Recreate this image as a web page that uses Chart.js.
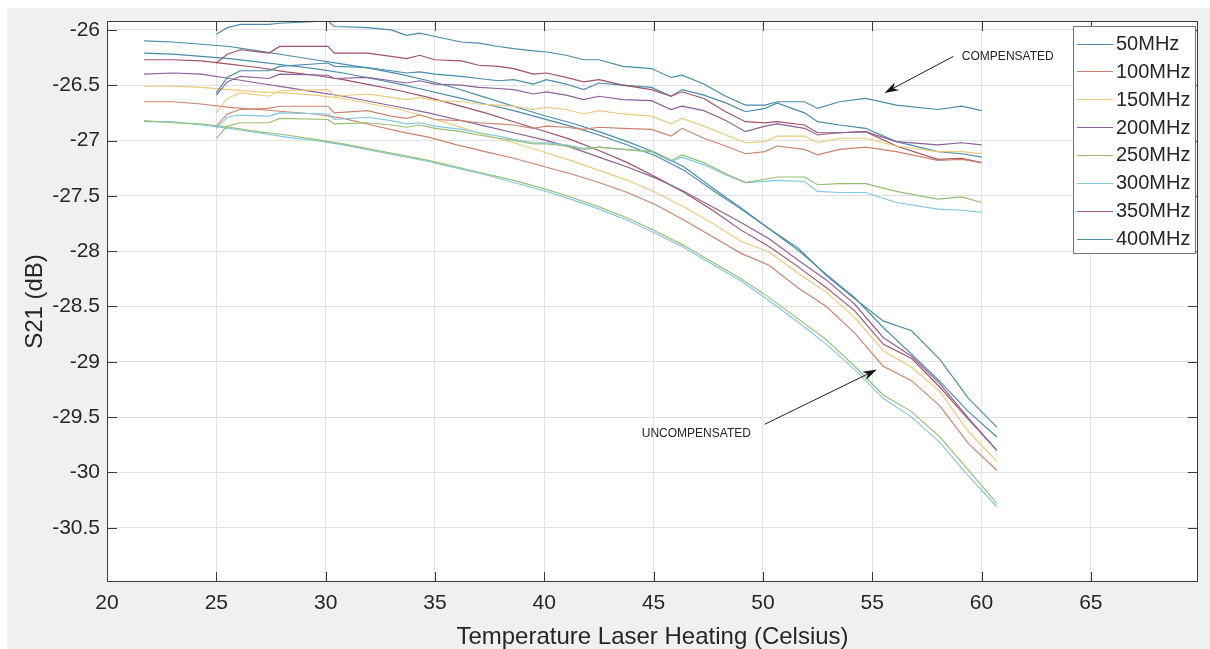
<!DOCTYPE html>
<html>
<head>
<meta charset="utf-8">
<script src="https://cdn.jsdelivr.net/npm/chart.js@4.4.1/dist/chart.umd.min.js"></script>
<style>
  html, body { margin: 0; padding: 0; background: #ffffff; }
  #wrap { position: relative; width: 1210px; height: 649px; }
  canvas { display: block; }
</style>
</head>
<body>
<div id="wrap"><canvas id="s21chart" width="1210" height="649"></canvas></div>
<script>
// Series names and line colours
const freqLabels = ['50MHz', '100MHz', '150MHz', '200MHz', '250MHz', '300MHz', '350MHz', '400MHz'];
const lineColors = [
  'rgb(72,140,172)', 'rgb(202,132,108)', 'rgb(234,202,122)', 'rgb(140,96,156)',
  'rgb(150,190,116)', 'rgb(128,200,228)', 'rgb(160,82,102)', 'rgb(72,140,172)'
];

// Axis ticks
const xTickValues = [20, 25, 30, 35, 40, 45, 50, 55, 60, 65];
const yTickValues = [-26, -26.5, -27, -27.5, -28, -28.5, -29, -29.5, -30, -30.5];

// Temperatures (Celsius) of the compensated sweeps
const tempCompensated = [25.0, 25.5, 26.1, 27.4, 27.9, 30.1, 30.4, 31.9, 33.0, 33.7, 34.3, 35.0, 36.2, 37.0, 37.9, 38.6, 39.5, 40.1, 41.0, 41.8, 42.5, 43.6, 44.9, 45.8, 46.3, 47.3, 48.3, 49.2, 50.1, 50.65, 51.9, 52.5, 53.5, 54.7, 56.1, 58.0, 59.1, 60.0];

// S21 (dB), compensated
const comp50  = [-26.04, -25.98, -25.95, -25.95, -25.94, -25.92, -25.97, -25.98, -26.00, -26.05, -26.03, -26.06, -26.11, -26.12, -26.15, -26.17, -26.19, -26.20, -26.23, -26.27, -26.27, -26.33, -26.35, -26.43, -26.41, -26.49, -26.60, -26.68, -26.68, -26.65, -26.65, -26.71, -26.65, -26.62, -26.68, -26.72, -26.69, -26.73];
const comp100 = [-26.87, -26.76, -26.72, -26.71, -26.69, -26.69, -26.75, -26.73, -26.78, -26.80, -26.77, -26.81, -26.82, -26.84, -26.85, -26.86, -26.89, -26.87, -26.88, -26.90, -26.88, -26.89, -26.90, -26.96, -26.89, -26.98, -27.05, -27.12, -27.10, -27.05, -27.08, -27.13, -27.08, -27.06, -27.10, -27.18, -27.17, -27.20];
const comp150 = [-26.75, -26.62, -26.57, -26.60, -26.55, -26.54, -26.60, -26.58, -26.61, -26.63, -26.61, -26.64, -26.65, -26.67, -26.68, -26.69, -26.72, -26.70, -26.72, -26.76, -26.73, -26.76, -26.78, -26.85, -26.80, -26.87, -26.95, -27.02, -27.01, -26.96, -26.96, -27.02, -26.98, -26.98, -27.05, -27.10, -27.10, -27.12];
const comp200 = [-26.59, -26.47, -26.42, -26.44, -26.40, -26.41, -26.44, -26.43, -26.46, -26.48, -26.46, -26.49, -26.50, -26.52, -26.53, -26.54, -26.58, -26.56, -26.59, -26.63, -26.60, -26.63, -26.64, -26.72, -26.69, -26.73, -26.82, -26.92, -26.87, -26.85, -26.89, -26.95, -26.93, -26.92, -27.01, -27.04, -27.02, -27.04];
const comp250 = [-26.98, -26.87, -26.84, -26.84, -26.80, -26.81, -26.85, -26.84, -26.86, -26.88, -26.86, -26.89, -26.92, -26.95, -26.98, -27.00, -27.03, -27.03, -27.05, -27.08, -27.06, -27.08, -27.10, -27.18, -27.13, -27.20, -27.30, -27.38, -27.35, -27.33, -27.33, -27.40, -27.39, -27.39, -27.46, -27.53, -27.51, -27.56];
const comp300 = [-26.89, -26.79, -26.77, -26.78, -26.75, -26.76, -26.81, -26.79, -26.82, -26.85, -26.84, -26.87, -26.90, -26.93, -26.96, -26.99, -27.02, -27.02, -27.04, -27.07, -27.06, -27.08, -27.10, -27.19, -27.15, -27.22, -27.31, -27.38, -27.37, -27.36, -27.37, -27.46, -27.47, -27.47, -27.56, -27.62, -27.63, -27.65];
const comp350 = [-26.30, -26.22, -26.18, -26.21, -26.15, -26.15, -26.21, -26.21, -26.24, -26.26, -26.23, -26.27, -26.28, -26.32, -26.33, -26.35, -26.40, -26.39, -26.43, -26.47, -26.45, -26.50, -26.54, -26.60, -26.56, -26.62, -26.74, -26.83, -26.84, -26.83, -26.86, -26.93, -26.93, -26.92, -27.05, -27.17, -27.16, -27.20];
const comp400 = [-26.57, -26.43, -26.37, -26.37, -26.33, -26.30, -26.33, -26.34, -26.37, -26.39, -26.38, -26.40, -26.42, -26.44, -26.46, -26.45, -26.49, -26.45, -26.49, -26.54, -26.48, -26.50, -26.52, -26.60, -26.54, -26.59, -26.66, -26.74, -26.71, -26.66, -26.75, -26.83, -26.86, -26.89, -27.01, -27.10, -27.12, -27.15];

// Temperatures (Celsius) of the uncompensated sweeps
const tempUncompensated = [21.7, 23.0, 24.3, 25.6, 26.9, 28.2, 29.5, 30.8, 32.1, 33.4, 34.7, 36.0, 37.3, 38.6, 39.9, 41.2, 42.5, 43.8, 45.1, 46.4, 47.7, 49.0, 50.3, 51.6, 52.9, 54.2, 55.5, 56.8, 58.1, 59.4, 60.7];

// S21 (dB), uncompensated
const uncomp50  = [-26.10, -26.11, -26.13, -26.15, -26.19, -26.23, -26.27, -26.31, -26.35, -26.40, -26.46, -26.53, -26.61, -26.69, -26.77, -26.84, -26.92, -27.01, -27.11, -27.24, -27.43, -27.61, -27.80, -27.97, -28.22, -28.43, -28.63, -28.72, -28.98, -29.33, -29.59];
const uncomp100 = [-26.65, -26.65, -26.67, -26.70, -26.72, -26.74, -26.76, -26.80, -26.86, -26.92, -26.97, -27.04, -27.10, -27.16, -27.23, -27.30, -27.38, -27.47, -27.58, -27.72, -27.87, -28.02, -28.13, -28.33, -28.50, -28.74, -29.04, -29.17, -29.40, -29.74, -29.98];
const uncomp150 = [-26.51, -26.51, -26.52, -26.54, -26.56, -26.57, -26.59, -26.62, -26.67, -26.72, -26.79, -26.87, -26.95, -27.02, -27.10, -27.18, -27.27, -27.36, -27.47, -27.60, -27.75, -27.91, -28.01, -28.20, -28.37, -28.60, -28.90, -29.05, -29.27, -29.63, -29.90];
const uncomp200 = [-26.40, -26.39, -26.40, -26.44, -26.48, -26.52, -26.56, -26.60, -26.65, -26.70, -26.75, -26.81, -26.87, -26.93, -26.99, -27.06, -27.15, -27.24, -27.34, -27.46, -27.60, -27.74, -27.89, -28.08, -28.26, -28.48, -28.78, -28.95, -29.20, -29.51, -29.80];
const uncomp250 = [-26.82, -26.84, -26.85, -26.88, -26.92, -26.95, -26.99, -27.03, -27.08, -27.13, -27.18, -27.24, -27.30, -27.36, -27.43, -27.51, -27.60, -27.70, -27.82, -27.95, -28.10, -28.25, -28.42, -28.61, -28.80, -29.04, -29.30, -29.45, -29.68, -29.98, -30.28];
const uncomp300 = [-26.83, -26.83, -26.86, -26.89, -26.93, -26.97, -27.00, -27.04, -27.09, -27.14, -27.19, -27.25, -27.31, -27.38, -27.45, -27.53, -27.62, -27.72, -27.84, -27.97, -28.12, -28.27, -28.45, -28.64, -28.84, -29.07, -29.33, -29.50, -29.73, -30.03, -30.31];
const uncomp350 = [-26.27, -26.27, -26.28, -26.31, -26.34, -26.38, -26.41, -26.45, -26.50, -26.55, -26.61, -26.68, -26.75, -26.83, -26.91, -26.99, -27.09, -27.20, -27.33, -27.47, -27.63, -27.81, -27.96, -28.14, -28.33, -28.54, -28.84, -28.97, -29.23, -29.52, -29.80];
const uncomp400 = [-26.21, -26.22, -26.24, -26.26, -26.29, -26.32, -26.35, -26.39, -26.44, -26.49, -26.55, -26.61, -26.67, -26.73, -26.80, -26.87, -26.95, -27.04, -27.14, -27.27, -27.45, -27.62, -27.80, -27.99, -28.21, -28.42, -28.69, -28.93, -29.18, -29.45, -29.68];

const compSeries = [comp50, comp100, comp150, comp200, comp250, comp300, comp350, comp400];
const uncompSeries = [uncomp50, uncomp100, uncomp150, uncomp200, uncomp250, uncomp300, uncomp350, uncomp400];

const FONT = "'Liberation Sans', Arial, Helvetica, sans-serif";
const TEXT_COLOR = 'rgb(38,38,38)';

function toPoints(xs, ys) {
  return xs.map((x, i) => ({ x: x, y: ys[i] }));
}

const datasets = [];
freqLabels.forEach((label, i) => {
  datasets.push({
    label: label,
    data: toPoints(tempCompensated, compSeries[i]),
    borderColor: lineColors[i],
    borderWidth: 1.15,
    fill: false
  });
});
freqLabels.forEach((label, i) => {
  datasets.push({
    label: label,
    data: toPoints(tempUncompensated, uncompSeries[i]),
    borderColor: lineColors[i],
    borderWidth: 1.15,
    fill: false
  });
});

// Arrow annotations, in data units
const notes = [
  { text: 'COMPENSATED', textAt: [59.1, -26.24], align: 'left', from: [58.71, -26.24], to: [55.56, -26.57] },
  { text: 'UNCOMPENSATED', textAt: [49.45, -29.65], align: 'right', from: [50.08, -29.565], to: [55.21, -29.07] }
];

function drawArrow(ctx, x0, y0, x1, y1) {
  const ang = Math.atan2(y1 - y0, x1 - x0);
  const len = 14, half = 4.5, notch = 10;
  ctx.beginPath();
  ctx.moveTo(x0, y0);
  ctx.lineTo(x1 - Math.cos(ang) * notch, y1 - Math.sin(ang) * notch);
  ctx.stroke();
  const bx = x1 - Math.cos(ang) * len, by = y1 - Math.sin(ang) * len;
  const nx = x1 - Math.cos(ang) * notch, ny = y1 - Math.sin(ang) * notch;
  ctx.beginPath();
  ctx.moveTo(x1, y1);
  ctx.lineTo(bx + Math.sin(ang) * half, by - Math.cos(ang) * half);
  ctx.lineTo(nx, ny);
  ctx.lineTo(bx - Math.sin(ang) * half, by + Math.cos(ang) * half);
  ctx.closePath();
  ctx.fill();
}

const axesFrame = {
  id: 'axesFrame',
  beforeDraw(chart) {
    const { ctx, chartArea: a } = chart;
    ctx.save();
    ctx.fillStyle = 'rgb(240,240,240)';
    ctx.fillRect(7, 8, chart.width - 7, chart.height - 8);
    ctx.fillStyle = '#ffffff';
    ctx.fillRect(a.left, a.top, a.right - a.left, a.bottom - a.top);
    ctx.restore();
  },
  afterDatasetsDraw(chart) {
    const { ctx, chartArea: a, scales } = chart;
    const xs = scales.x, ys = scales.y;
    ctx.save();

    // box and inward tick marks
    ctx.strokeStyle = 'rgb(60,60,60)';
    ctx.lineWidth = 1;
    ctx.strokeRect(Math.round(a.left) + 0.5, Math.round(a.top) + 0.5,
      Math.round(a.right - a.left) - 1, Math.round(a.bottom - a.top) - 1);
    const tl = 10;
    ctx.beginPath();
    xTickValues.forEach(v => {
      const px = Math.round(xs.getPixelForValue(v)) + 0.5;
      ctx.moveTo(px, a.bottom); ctx.lineTo(px, a.bottom - tl);
      ctx.moveTo(px, a.top); ctx.lineTo(px, a.top + tl);
    });
    yTickValues.forEach(v => {
      const py = Math.round(ys.getPixelForValue(v)) + 0.5;
      ctx.moveTo(a.left, py); ctx.lineTo(a.left + tl, py);
      ctx.moveTo(a.right, py); ctx.lineTo(a.right - tl, py);
    });
    ctx.stroke();

    // arrow annotations
    ctx.strokeStyle = 'rgb(30,30,30)';
    ctx.fillStyle = 'rgb(20,20,20)';
    ctx.lineWidth = 1;
    notes.forEach(n => {
      drawArrow(ctx,
        xs.getPixelForValue(n.from[0]), ys.getPixelForValue(n.from[1]),
        xs.getPixelForValue(n.to[0]), ys.getPixelForValue(n.to[1]));
      ctx.font = '12px ' + FONT;
      ctx.textAlign = n.align;
      ctx.textBaseline = 'middle';
      ctx.fillStyle = TEXT_COLOR;
      ctx.fillText(n.text, xs.getPixelForValue(n.textAt[0]), ys.getPixelForValue(n.textAt[1]));
      ctx.fillStyle = 'rgb(20,20,20)';
    });

    // legend box (one entry per frequency)
    const lw = 122, lh = 227;
    const lx = Math.round(a.right) - 3 - lw, ly = Math.round(a.top) + 5;
    ctx.fillStyle = '#ffffff';
    ctx.fillRect(lx, ly, lw, lh);
    ctx.strokeStyle = 'rgb(115,115,115)';
    ctx.lineWidth = 1;
    ctx.strokeRect(lx + 0.5, ly + 0.5, lw, lh);
    ctx.font = '20px ' + FONT;
    ctx.textAlign = 'left';
    ctx.textBaseline = 'middle';
    freqLabels.forEach((label, i) => {
      const cy = ly + 17.5 + i * 27.86;
      ctx.strokeStyle = chart.data.datasets[i].borderColor;
      ctx.lineWidth = 1.15;
      ctx.beginPath();
      ctx.moveTo(lx + 4, Math.round(cy) + 0.5);
      ctx.lineTo(lx + 40, Math.round(cy) + 0.5);
      ctx.stroke();
      ctx.fillStyle = TEXT_COLOR;
      ctx.fillText(label, lx + 43, cy + 1);
    });

    // axis titles
    ctx.fillStyle = TEXT_COLOR;
    ctx.font = '24px ' + FONT;
    ctx.textAlign = 'center';
    ctx.textBaseline = 'alphabetic';
    ctx.fillText('Temperature Laser Heating (Celsius)', (a.left + a.right) / 2, 644);
    ctx.translate(41.5, (a.top + a.bottom) / 2);
    ctx.rotate(-Math.PI / 2);
    ctx.fillText('S21 (dB)', 0, 0);
    ctx.restore();
  }
};

new Chart(document.getElementById('s21chart').getContext('2d'), {
  type: 'line',
  data: { datasets: datasets },
  options: {
    responsive: false,
    animation: false,
    devicePixelRatio: 1,
    layout: { padding: { left: 0, top: 21, right: 12, bottom: 0 } },
    plugins: { legend: { display: false }, tooltip: { enabled: false } },
    elements: { point: { radius: 0 }, line: { tension: 0 } },
    scales: {
      x: {
        type: 'linear',
        min: 20,
        max: 69.9,
        afterBuildTicks(scale) { scale.ticks = xTickValues.map(v => ({ value: v })); },
        afterFit(scale) { scale.height = 67; },
        grid: { color: 'rgb(226,226,226)', drawTicks: false, lineWidth: 1 },
        border: { display: false },
        ticks: {
          font: { family: FONT, size: 21 },
          color: TEXT_COLOR,
          padding: 9,
          maxRotation: 0,
          autoSkip: false,
          callback: v => String(v)
        }
      },
      y: {
        type: 'linear',
        min: -30.99,
        max: -25.92,
        afterBuildTicks(scale) { scale.ticks = yTickValues.map(v => ({ value: v })); },
        afterFit(scale) { scale.width = 107; },
        grid: { color: 'rgb(226,226,226)', drawTicks: false, lineWidth: 1 },
        border: { display: false },
        ticks: {
          font: { family: FONT, size: 21 },
          color: TEXT_COLOR,
          padding: 7,
          autoSkip: false,
          callback: v => String(v)
        }
      }
    }
  },
  plugins: [axesFrame]
});
</script>
</body>
</html>
